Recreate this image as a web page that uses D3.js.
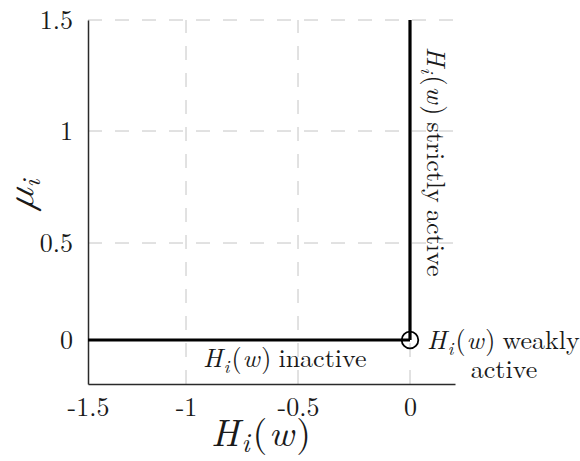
<!DOCTYPE html>
<html><head><meta charset="utf-8">
<script src="https://cdn.jsdelivr.net/npm/d3@7"></script>
<style>html,body{margin:0;padding:0;background:#fff;}</style>
</head>
<body><svg id="c" width="580" height="461"></svg>
<script>
// ---- data ----
const xTicks = [-1.5, -1, -0.5, 0];
const xTickLabels = ["-1.5", "-1", "-0.5", "0"];
const yTicks = [0, 0.5, 1, 1.5];
const yTickLabels = ["0", "0.5", "1", "1.5"];
const xGrid = [-1, -0.5, 0];
const yGrid = [0.5, 1, 1.5];
const inactiveX = [-1.5, 0];
const inactiveY = [0, 0];
const strictX = [0, 0];
const strictY = [0, 1.5];
const weakX = [0];
const weakY = [0];

const FONT = '"Latin Modern Roman", "Liberation Serif", serif';
const MATH = '"Latin Modern Math", "Latin Modern Roman", "Liberation Serif", serif';
const svg = d3.select("#c");
// piecewise scales (the reference axes are not uniformly spaced)
const x = d3.scaleLinear().domain([-1.5, -1, -0.5, 0, 0.2]).range([88, 186, 298, 410, 455]);
const y = d3.scaleLinear().domain([-0.2, 0, 0.5, 1, 1.5]).range([384, 340, 243, 131, 20]);
const [x0, x1] = [x(-1.5), x(0.2)];
const [y0, y1] = [y(-0.2), y(1.5)];

// grid
svg.append("g").selectAll("line").data(xGrid).join("line")
  .attr("x1", d => x(d)).attr("x2", d => x(d)).attr("y1", y0).attr("y2", y1)
  .attr("stroke", "#c4c4c4").attr("stroke-width", 1).attr("stroke-dasharray", "14,13");
svg.append("g").selectAll("line").data(yGrid).join("line")
  .attr("x1", x0).attr("x2", x1).attr("y1", d => y(d)).attr("y2", d => y(d))
  .attr("stroke", "#c4c4c4").attr("stroke-width", 1).attr("stroke-dasharray", "14,13");

// axes
const xAxis = d3.axisBottom(x).tickValues(xTicks).tickFormat((d, i) => xTickLabels[i]).tickSize(0).tickPadding(14);
const yAxis = d3.axisLeft(y).tickValues(yTicks).tickFormat((d, i) => yTickLabels[i]).tickSize(0).tickPadding(15);
const gx = svg.append("g").attr("transform", `translate(0,${y0})`).call(xAxis);
const gy = svg.append("g").attr("transform", `translate(${x0},0)`).call(yAxis);
[gx, gy].forEach(g => {
  g.attr("font-family", null).attr("font-size", null);
  g.select(".domain").attr("stroke", "#2a2a2a").attr("stroke-width", 1.5);
  g.selectAll("text").style("font-family", FONT).style("font-size", "26px").attr("fill", "#1a1a1a");
});
gx.selectAll("text").attr("dy", "0.71em");
gy.selectAll("text").attr("dy", "0.34em");

// lines
const line = d3.line().x(d => x(d[0])).y(d => y(d[1]));
svg.append("path").datum(d3.zip(inactiveX, inactiveY)).attr("d", line)
  .attr("fill", "none").attr("stroke", "#000").attr("stroke-width", 3.2);
svg.append("path").datum(d3.zip(strictX, strictY)).attr("d", line)
  .attr("fill", "none").attr("stroke", "#000").attr("stroke-width", 3.2);
svg.append("g").selectAll("circle").data(d3.zip(weakX, weakY)).join("circle")
  .attr("cx", d => x(d[0])).attr("cy", d => y(d[1])).attr("r", 8.3)
  .attr("fill", "none").attr("stroke", "#000").attr("stroke-width", 1.8);

// math label helper: H_i(w) + suffix words
function hiw(t, size, suffix, sub) {
  const k = size / 26;
  const s = (sub || 0.22) * size;
  t.style("font-family", FONT).style("font-size", size + "px").attr("fill", "#1a1a1a");
  t.append("tspan").style("font-style", "italic").text("H");
  t.append("tspan").style("font-style", "italic").style("font-size", (size * 0.7) + "px")
    .attr("dx", 1.5 * k).attr("dy", s).text("i");
  t.append("tspan").attr("dx", 2 * k).attr("dy", -s).text("(");
  t.append("tspan").style("font-style", "italic").attr("dx", 1 * k).text("w");
  t.append("tspan").attr("dx", 1.5 * k).text(")");
  if (suffix) {
    suffix.split(" ").forEach((w, i) => t.append("tspan").attr("dx", (i ? 8 : 7) * k).text(w));
  }
}

// axis titles
const xt = svg.append("text").attr("x", 261).attr("y", 446).attr("text-anchor", "middle");
hiw(xt, 38, "", 0.15);
const yt = svg.append("text").attr("transform", "translate(33,195) rotate(-90)").attr("text-anchor", "middle")
  .style("font-family", MATH).style("font-size", "38px").attr("fill", "#1a1a1a");
yt.append("tspan").style("font-style", "italic").text("𝜇");
yt.append("tspan").style("font-family", FONT).style("font-style", "italic").style("font-size", "26px").attr("dy", 7).text("i");

// annotations
const a1 = svg.append("text").attr("x", 203).attr("y", 367);
hiw(a1, 26, "inactive");
const a2 = svg.append("text").attr("x", 427).attr("y", 349);
hiw(a2, 26, "weakly");
svg.append("text").attr("x", 504).attr("y", 378).attr("text-anchor", "middle")
  .style("font-family", FONT).style("font-size", "26px").attr("fill", "#1a1a1a").text("active");
const a3 = svg.append("text").attr("transform", "translate(427,47) rotate(90)");
hiw(a3, 26, "strictly active");
</script></body></html>
